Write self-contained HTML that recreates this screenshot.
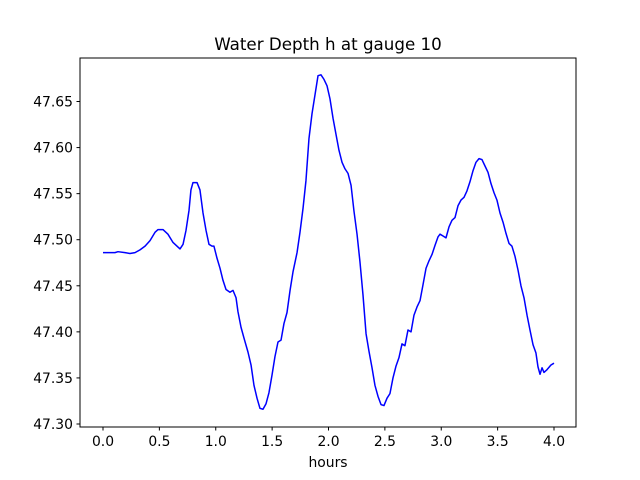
<!DOCTYPE html>
<html><head><meta charset="utf-8"><style>
html,body{margin:0;padding:0;background:#fff;}
svg{display:block;font-family:"DejaVu Sans","Liberation Sans",sans-serif;}
</style></head><body>
<svg id="chart" width="640" height="480" xmlns="http://www.w3.org/2000/svg">
<rect width="640" height="480" fill="#fff"/>
<text x="328" y="50" font-size="16.7" text-anchor="middle">Water Depth h at gauge 10</text>
<g id="xticks"></g>
<g id="yticks"></g>
<path id="line" fill="none" stroke="#0000ff" stroke-width="1.5" stroke-linejoin="round"/>
<rect x="80" y="58" width="496" height="369" fill="none" stroke="#000" stroke-width="1"/>
<text x="328" y="467" font-size="13.9" text-anchor="middle">hours</text>
</svg>
<script>
const hours=[0,.106,.133,.195,.239,.284,.328,.373,.417,.461,.488,.532,.576,.621,.665,.683,.710,.736,.763,.780,.798,.834,.860,.887,.914,.940,.967,.984,1.011,1.038,1.064,1.091,1.126,1.153,1.180,1.197,1.224,1.251,1.286,1.313,1.339,1.366,1.392,1.419,1.446,1.472,1.499,1.525,1.552,1.579,1.605,1.632,1.659,1.685,1.721,1.747,1.774,1.800,1.827,1.854,1.880,1.907,1.933,1.960,1.987,2.013,2.040,2.067,2.093,2.120,2.146,2.173,2.200,2.226,2.253,2.279,2.306,2.333,2.359,2.386,2.412,2.439,2.466,2.492,2.519,2.545,2.572,2.599,2.625,2.652,2.678,2.705,2.732,2.758,2.785,2.812,2.838,2.865,2.891,2.918,2.945,2.971,2.989,3.016,3.042,3.069,3.095,3.122,3.149,3.175,3.202,3.228,3.255,3.282,3.308,3.335,3.361,3.388,3.415,3.441,3.468,3.494,3.521,3.548,3.574,3.601,3.627,3.654,3.681,3.707,3.734,3.761,3.787,3.814,3.840,3.858,3.876,3.894,3.911,3.938,3.973,4.0];
const depth=[47.486,47.486,47.487,47.486,47.485,47.486,47.489,47.493,47.499,47.508,47.511,47.511,47.506,47.497,47.492,47.490,47.495,47.510,47.532,47.554,47.562,47.562,47.554,47.529,47.510,47.495,47.493,47.493,47.480,47.469,47.456,47.446,47.443,47.445,47.437,47.422,47.405,47.393,47.378,47.364,47.342,47.328,47.317,47.316,47.322,47.334,47.353,47.373,47.389,47.391,47.409,47.421,47.445,47.465,47.486,47.508,47.534,47.564,47.610,47.637,47.657,47.678,47.679,47.674,47.667,47.653,47.632,47.614,47.597,47.584,47.577,47.572,47.559,47.531,47.506,47.476,47.440,47.398,47.379,47.361,47.342,47.330,47.321,47.320,47.328,47.333,47.350,47.363,47.372,47.387,47.385,47.402,47.400,47.418,47.427,47.434,47.451,47.469,47.477,47.484,47.494,47.503,47.506,47.504,47.502,47.514,47.521,47.524,47.537,47.543,47.546,47.553,47.563,47.575,47.584,47.588,47.587,47.580,47.573,47.561,47.551,47.543,47.529,47.519,47.507,47.496,47.493,47.482,47.467,47.450,47.437,47.418,47.402,47.386,47.377,47.362,47.354,47.361,47.356,47.359,47.364,47.366];
const xTickLabels=["0.0","0.5","1.0","1.5","2.0","2.5","3.0","3.5","4.0"];
const yTickLabels=["47.30","47.35","47.40","47.45","47.50","47.55","47.60","47.65"];

const NS="http://www.w3.org/2000/svg";
function xs(h){return 103+(h-0)*(554-103)/4;}
function ys(v){return 424-(v-47.30)*(424-101.5)/0.35;}

const xg=document.getElementById('xticks');
xTickLabels.forEach(t=>{
  const x=xs(parseFloat(t));
  const l=document.createElementNS(NS,'line');
  
  
  l.setAttribute('x1',x);l.setAttribute('x2',x);l.setAttribute('y1',427);l.setAttribute('y2',430.5);l.setAttribute('stroke','#000');
  xg.appendChild(l);
  const tx=document.createElementNS(NS,'text');
  
  
  tx.setAttribute('x',x);tx.setAttribute('y',446);tx.setAttribute('font-size','13.9');tx.setAttribute('text-anchor','middle');
  tx.textContent=t;xg.appendChild(tx);
});
const yg=document.getElementById('yticks');
yTickLabels.forEach(t=>{
  const y=ys(parseFloat(t));
  const l=document.createElementNS(NS,'line');
  
  
  l.setAttribute('x1',76.5);l.setAttribute('x2',80);l.setAttribute('y1',y);l.setAttribute('y2',y);l.setAttribute('stroke','#000');
  yg.appendChild(l);
  const tx=document.createElementNS(NS,'text');
  
  
  tx.setAttribute('x',73);tx.setAttribute('y',y+5);tx.setAttribute('font-size','13.9');tx.setAttribute('text-anchor','end');
  tx.textContent=t;yg.appendChild(tx);
});
const n=Math.min(hours.length,depth.length);
let d='';
for(let i=0;i<n;i++){d+=(i?'L':'M')+xs(hours[i]).toFixed(2)+','+ys(depth[i]).toFixed(2);}
document.getElementById('line').setAttribute('d',d);
</script>
</body></html>
